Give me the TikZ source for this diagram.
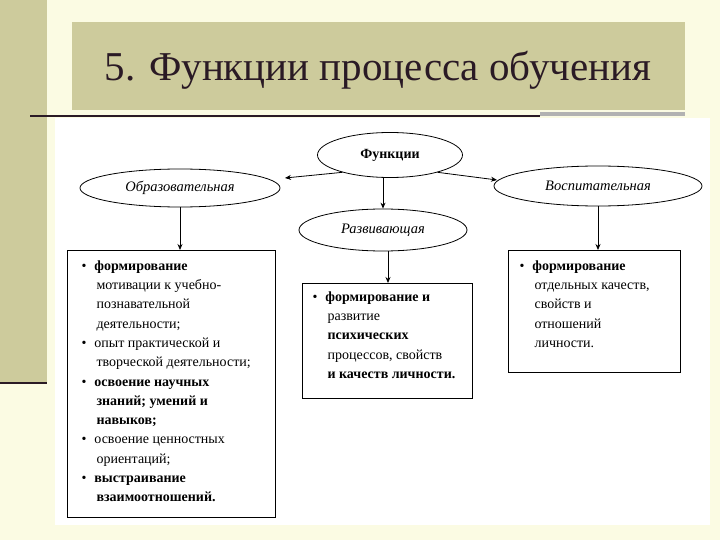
\documentclass[tikz,border=0pt]{standalone}
\usepackage{fontspec}
\setmainfont{Liberation Serif}
\usetikzlibrary{shapes.geometric,arrows.meta}
\definecolor{cream}{HTML}{FBFBE3}
\definecolor{khaki}{HTML}{CDCB9C}
\definecolor{darkline}{HTML}{2A1A25}
\begin{document}
\begin{tikzpicture}[x=1pt,y=-1pt,
  ell/.style={draw,ellipse,thick,inner sep=0pt,font=\itshape\fontsize{14.5}{14.5}\selectfont},
  box/.style={draw,thick,fill=white,anchor=north west,align=left,inner sep=0pt},
  arr/.style={-{Stealth[length=6pt,width=5pt]},thick},
  txt/.style={font=\fontsize{14}{19.3}\selectfont,align=left,anchor=north west}]
\useasboundingbox (0,0) rectangle (720,540);
\fill[cream] (0,0) rectangle (720,540);
\fill[khaki] (0,0) rectangle (47,383);
\draw[darkline,line width=2pt] (0,383) -- (47,383);
\fill[khaki] (72,22) rectangle (685,110);
\node[font=\fontsize{41}{41}\selectfont,text=darkline] (title) at (378,70) {5. Функции процесса обучения};
\draw[darkline,line width=1.2pt] (30,116) -- (540,116);
\fill[gray!60] (540,112) rectangle (685,116);
\fill[white] (55,118) rectangle (710,525);
\node[ell,minimum width=145,minimum height=45,font=\bfseries\fontsize{14}{14}\selectfont] (f) at (390,155) {Функции};
\node[ell,minimum width=200,minimum height=38] (o) at (180,188) {Образовательная};
\node[ell,minimum width=208,minimum height=40] (v) at (598,186) {Воспитательная};
\node[ell,minimum width=168,minimum height=42] (r) at (383,230) {Развивающая};
\coordinate (ol) at (285,178);
\coordinate (vr) at (497,180);
\node[box,minimum width=208,minimum height=267] (b1) at (67,250) {};
\node[box,minimum width=170,minimum height=115] (b2) at (302,283) {};
\node[box,minimum width=172,minimum height=122] (b3) at (508,250) {};
\draw[arr] (f.200) -- (ol);
\draw[arr] (f.340) -- (vr);
\draw[arr] (f.south -| r.north) -- (r.north);
\draw[arr] (o.south) -- (o.south |- b1.north);
\draw[arr] (r.south -| 388,0) -- (388,283);
\draw[arr] (v.south) -- (v.south |- b3.north);
\node[txt] (t1) at (78,257) {%
\textbullet\hspace{8pt}\textbf{формирование}\\
\hspace{15pt}мотивации к учебно-\\
\hspace{15pt}познавательной\\
\hspace{15pt}деятельности;\\
\textbullet\hspace{8pt}опыт практической и\\
\hspace{15pt}творческой деятельности;\\
\textbullet\hspace{8pt}\textbf{освоение научных}\\
\hspace{15pt}\textbf{знаний; умений и}\\
\hspace{15pt}\textbf{навыков;}\\
\textbullet\hspace{8pt}освоение ценностных\\
\hspace{15pt}ориентаций;\\
\textbullet\hspace{8pt}\textbf{выстраивание}\\
\hspace{15pt}\textbf{взаимоотношений.}};
\node[txt] (t2) at (309,288) {%
\textbullet\hspace{8pt}\textbf{формирование и}\\
\hspace{15pt}развитие\\
\hspace{15pt}\textbf{психических}\\
\hspace{15pt}процессов, свойств\\
\hspace{15pt}\textbf{и качеств личности.}};
\node[txt] (t3) at (516,257) {%
\textbullet\hspace{8pt}\textbf{формирование}\\
\hspace{15pt}отдельных качеств,\\
\hspace{15pt}свойств и\\
\hspace{15pt}отношений\\
\hspace{15pt}личности.};
\end{tikzpicture}
\end{document}
